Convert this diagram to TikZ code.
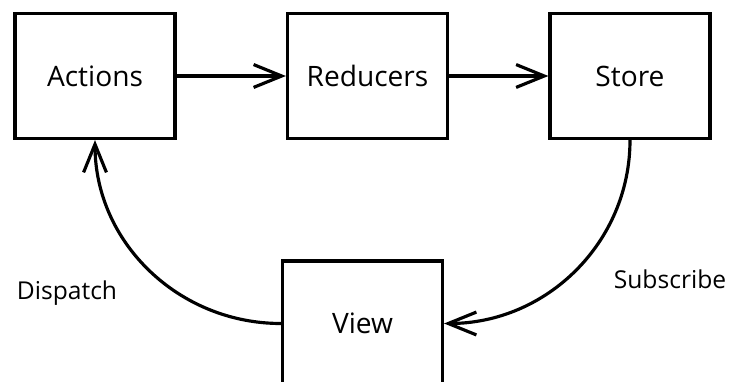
\documentclass[tikz,border=0pt]{standalone}
\usepackage{fontspec}
\setmainfont{Open Sans}
\usepackage{tikz}
\usetikzlibrary{arrows.meta}

\begin{document}
\begin{tikzpicture}[scale=1.0,
    box/.style={draw, line width=1.8pt, minimum width=3.2cm, minimum height=2.5cm,
                font=\fontsize{16}{19}\selectfont},
    flow/.style={line width=1.8pt, line cap=round,
                 -{Straight Barb[length=16pt, width=13pt]}},
    tag/.style={font=\fontsize{14}{17}\selectfont}]

\useasboundingbox (0.0, 0.0) rectangle (14.64, 7.62);
\clip (0.0, 0.0) rectangle (14.64, 7.62);

% the three boxes on top, the view below
\node[box] (actions)  at ( 1.90, 6.10) {Actions};
\node[box] (reducers) at ( 7.35, 6.10) {Reducers};
\node[box] (store)    at (12.60, 6.10) {Store};
\node[box] (view)     at ( 7.25, 1.15) {View};

\draw[flow] (actions) -- (reducers);
\draw[flow] (reducers) -- (store);

% the loop back
\draw[flow] (store.south) to[out=-90, in=0] (view.east);
\draw[flow] (view.west) to[out=180, in=-90] (actions.south);

\node[tag] (dispatch)  at ( 1.34, 1.76) {Dispatch};
\node[tag] (subscribe) at (13.40, 2.04) {Subscribe};

\end{tikzpicture}
\end{document}
